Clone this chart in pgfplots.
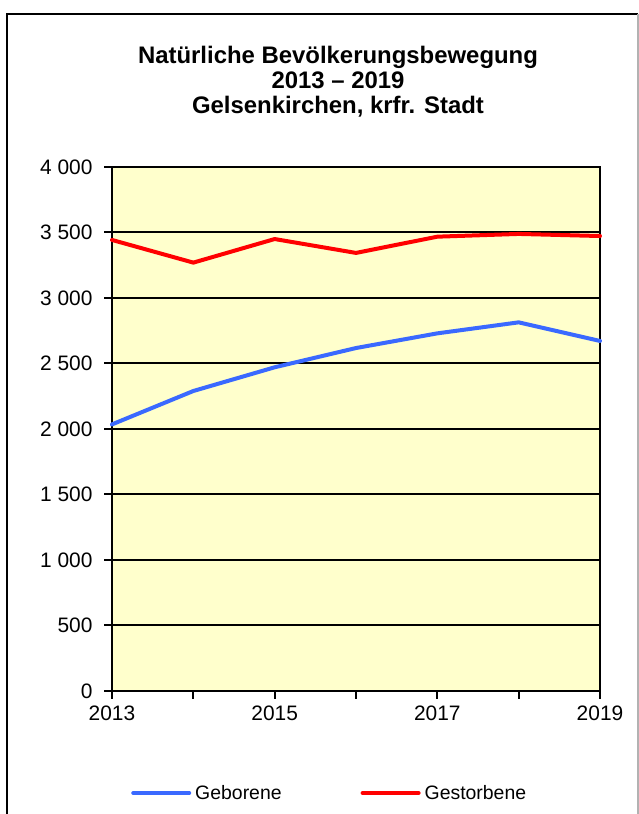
\documentclass[border=0pt]{standalone}
\usepackage{fontspec}
\setmainfont{Liberation Sans}
\usepackage{pgfplots}
\pgfplotsset{compat=1.18}
\definecolor{bgyellow}{RGB}{255,255,204}
\definecolor{gebblue}{RGB}{58,105,255}
\definecolor{gesred}{RGB}{255,0,0}
\begin{document}
\begin{tikzpicture}[x=1bp,y=1bp]
\path[use as bounding box] (0,0) rectangle (639,814);
\fill[white] (0,0) rectangle (639,814);
% outer frame (open at bottom)
\draw[black, line width=2bp] (7,0) -- (7,800) -- (638,800);
\draw[gray!60, line width=1.5bp] (638,800) -- (638,0);
% title
\node[anchor=base, font=\fontsize{24}{28}\selectfont\bfseries] at (338,750) {Natürliche Bevölkerungsbewegung};
\node[anchor=base, font=\fontsize{24}{28}\selectfont\bfseries] at (338,725) {2013 – 2019};
\node[anchor=base, font=\fontsize{24}{28}\selectfont\bfseries] at (338,700) {Gelsenkirchen, krfr. Stadt};
\begin{axis}[
  at={(112bp,123bp)}, anchor=south west,
  scale only axis, width=488bp, height=524bp,
  xmin=2013, xmax=2019, ymin=0, ymax=4000,
  xtick={2013,2014,2015,2016,2017,2018,2019},
  xticklabels={2013,,2015,,2017,,2019},
  ytick={0,500,1000,1500,2000,2500,3000,3500,4000},
  yticklabels={0,500,1 000,1 500,2 000,2 500,3 000,3 500,4 000},
  tick pos=left,
  tick align=outside, major tick length=8bp,
  tick style={black, line width=2bp},
  axis line style={black, line width=2.5bp},
  ymajorgrids, grid style={black, line width=2bp},
  axis background/.style={fill=bgyellow},
  ticklabel style={font=\fontsize{21}{25}\selectfont},
  yticklabel style={anchor=east, xshift=-8bp},
  xticklabel style={anchor=north, yshift=-3bp},
  clip=false,
  legend columns=2,
  legend cell align=left,
  legend style={at={(axis description cs:0.039,-0.1947)}, anchor=west,
    draw=none, fill=none, inner sep=0pt,
    font=\fontsize{19.5}{23}\selectfont,
    nodes={inner sep=0pt},
    /tikz/every odd column/.append style={column sep=4bp},
    /tikz/every even column/.append style={column sep=79bp}},
  legend image code/.code={\draw[#1, line cap=round] (0bp,0bp) -- (56bp,0bp);},
]
\addplot[gebblue, line width=4bp, line cap=round, line join=round] coordinates {
 (2013,2035) (2014,2290) (2015,2471) (2016,2618) (2017,2730) (2018,2814) (2019,2672)};
\addlegendentry{Geborene}
\addplot[gesred, line width=4bp, line cap=round, line join=round] coordinates {
 (2013,3443) (2014,3270) (2015,3450) (2016,3344) (2017,3468) (2018,3489) (2019,3473)};
\addlegendentry{Gestorbene}
\end{axis}
\end{tikzpicture}
\end{document}
